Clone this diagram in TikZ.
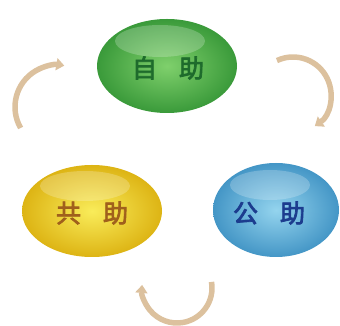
\documentclass[tikz,border=0pt]{standalone}
\usepackage{fontspec}
\newfontfamily\cjk[FakeBold=3]{Noto Sans CJK SC}
\usetikzlibrary{arrows.meta,shapes.geometric}
\definecolor{tan}{HTML}{DCC19E}
\definecolor{gdark}{HTML}{3A9A3A}
\definecolor{glight}{HTML}{7FD06C}
\definecolor{ydark}{HTML}{DDB414}
\definecolor{ylight}{HTML}{F9EC5A}
\definecolor{bdark}{HTML}{4496C6}
\definecolor{blight}{HTML}{94D4EE}
\definecolor{gtext}{HTML}{1E6B2C}
\definecolor{ytext}{HTML}{A0601C}
\definecolor{btext}{HTML}{1C3C8E}
\tikzset{
  pill/.style={ellipse, minimum width=140pt, minimum height=94pt, inner sep=0pt},
  lbl/.style={font=\cjk\fontsize{25}{25}\selectfont},
  cyc/.style={draw=tan, line width=5.5pt, -{Triangle[width=12pt,length=8pt]}},
}
\begin{document}
\begin{tikzpicture}[x=1pt,y=1pt]
\useasboundingbox (0,0) rectangle (340,326);
% ellipses
\shade[inner color=glight, outer color=gdark] (167,260) ellipse [x radius=70, y radius=47];
\shade[inner color=ylight, outer color=ydark] (92,115) ellipse [x radius=70, y radius=46];
\shade[inner color=blight, outer color=bdark] (276,116) ellipse [x radius=63, y radius=47];
\fill[white, opacity=0.22] (160,285) ellipse [x radius=45, y radius=16];
\fill[white, opacity=0.22] (85,140) ellipse [x radius=45, y radius=15];
\fill[white, opacity=0.22] (270,141) ellipse [x radius=40, y radius=15];
\node[pill] (jijo) at (167,260) {};
\node[pill] (kyojo) at (92,115) {};
\node[pill, minimum width=126pt] (kojo) at (276,116) {};
\node[lbl, text=gtext] (t1) at (168,258) {自\hspace{22pt}助};
\node[lbl, text=ytext] (t2) at (92,113) {共\hspace{22pt}助};
\node[lbl, text=btext] (t3) at (269,113) {公\hspace{22pt}助};
% cycle arrows
\coordinate (cl) at (57,219);
\coordinate (cr) at (293,231);
\coordinate (cb) at (177,38);
\draw[cyc] ([shift={(210:42)}]cl) arc[start angle=210, end angle=80, radius=42];
\draw[cyc] ([shift={(115:38)}]cr) arc[start angle=115, end angle=-55, radius=38];
\draw[cyc] ([shift={(10:35)}]cb) arc[start angle=10, end angle=-185, radius=35];
\end{tikzpicture}
\end{document}
